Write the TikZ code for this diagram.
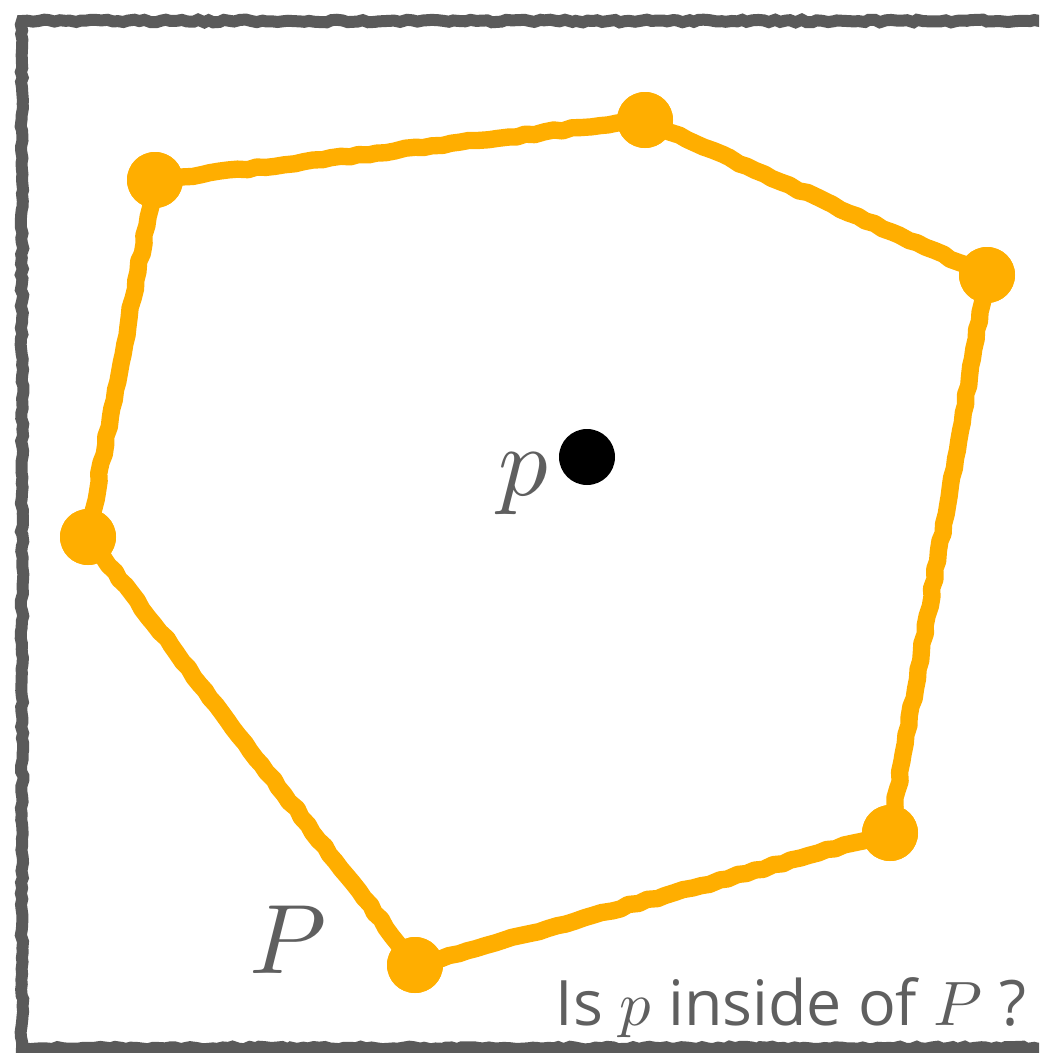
\documentclass[tikz,border=0pt]{standalone}
\usepackage{fontspec}
\usepackage{unicode-math}
\setmainfont{Open Sans}
\setmathfont{Latin Modern Math}
\usetikzlibrary{decorations.pathmorphing}
\definecolor{ptorange}{RGB}{255,174,0}
\definecolor{txtgray}{RGB}{95,95,95}
\definecolor{framegray}{RGB}{90,90,90}
\begin{document}
\begin{tikzpicture}[x=0.75pt,y=-0.75pt,
  vertex/.style={circle,fill=ptorange,minimum size=42pt,inner sep=0pt},
  querypt/.style={circle,fill=black,minimum size=42pt,inner sep=0pt},
  edge/.style={draw=ptorange,line width=13pt,line join=round,line cap=round,
    decorate,decoration={random steps,segment length=7pt,amplitude=0.9pt}},
  frame/.style={draw=framegray,line width=9pt,
    decorate,decoration={random steps,segment length=4pt,amplitude=1pt}},
  bigmath/.style={text=txtgray,inner sep=0pt,font=\fontsize{74}{80}\selectfont},
  caption/.style={text=txtgray,inner sep=0pt,font=\fontsize{47}{52}\selectfont}]
\pgfmathsetseed{7}
\useasboundingbox (0,0) rectangle (1039,1053);
\clip (0,0) rectangle (1039,1053);
% frame
\draw[frame] (22,21) -- (1060,21) -- (1060,1048) -- (22,1048) -- cycle;
% vertices
\node[vertex] (A) at (155,180) {};
\node[vertex] (B) at (645,120) {};
\node[vertex] (C) at (987,275) {};
\node[vertex] (D) at (890,833) {};
\node[vertex] (E) at (415,965) {};
\node[vertex] (F) at (88,537) {};
% edges
\draw[edge] (A.center) -- (B.center);
\draw[edge] (B.center) -- (C.center);
\draw[edge] (C.center) -- (D.center);
\draw[edge] (D.center) -- (E.center);
\draw[edge] (E.center) -- (F.center);
\draw[edge] (F.center) -- (A.center);
% redraw vertices on top
\foreach \v in {A,B,C,D,E,F}
  \fill[ptorange] (\v.center) circle (21pt);
% query point
\node[querypt] (q) at (587,457) {};
\node[bigmath,anchor=base] (plabel) at (524,495) {$p$};
\node[bigmath,anchor=base] (Plabel) at (288,973) {$P$};
\node[caption,anchor=base east] (question) at (1027,1025) {Is $p$ inside of $P$\;?};
\end{tikzpicture}
\end{document}
